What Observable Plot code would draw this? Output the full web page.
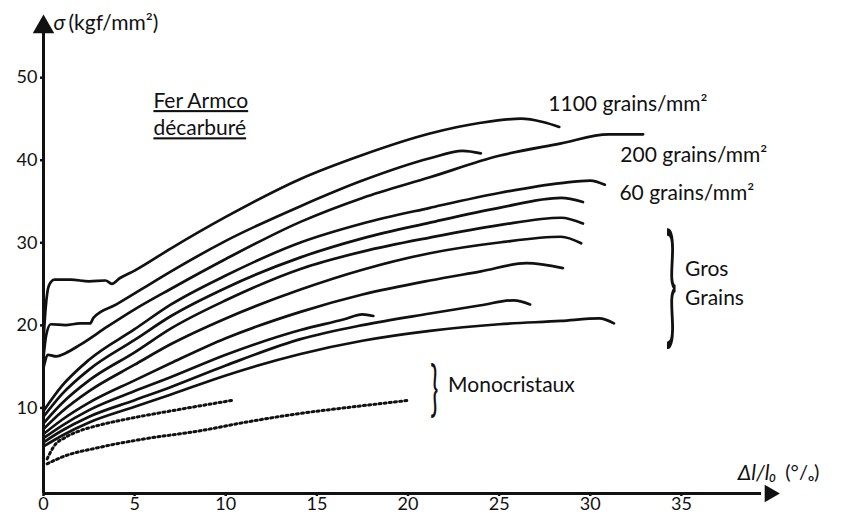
<!DOCTYPE html>
<html><head><meta charset="utf-8">
<script src="https://cdn.jsdelivr.net/npm/d3@7"></script>
<script src="https://cdn.jsdelivr.net/npm/@observablehq/plot@0.6"></script>
<style>
html,body{margin:0;padding:0;background:#fff;}
#chart{width:841px;height:517px;overflow:hidden;}
</style></head><body><div id="chart"></div>
<script>
// ---- data: tensile curves of decarburized Armco iron (x = Δl/l0 in %, y = σ in kgf/mm²)
const curve1100 = [[0,18.5],[0.12,22.5],[0.3,25.2],[0.6,25.9],[1.5,25.9],[2.5,25.7],[3.4,25.8],[3.75,25.4],[4.2,26.1],[5,27.0],[7,29.7],[10,33.5],[14.1,38.1],[17.5,41.0],[21.2,43.6],[24,44.9],[26.2,45.4],[27.4,45.0],[28.3,44.4]];
const curveB = [[0,16.5],[0.15,19.2],[0.4,20.5],[1.2,20.4],[2.0,20.6],[2.55,20.6],[2.75,21.3],[4,22.9],[5.5,24.9],[7,26.9],[10,30.6],[14.1,34.8],[17.5,37.9],[21.2,40.6],[23,41.5],[24,41.2]];
const curve200 = [[0,15.2],[0.25,16.8],[0.7,16.6],[1.2,17.0],[2,18.0],[3.5,20.2],[5,22.3],[7,24.8],[10,28.4],[14.1,32.9],[17.5,35.8],[21.2,38.3],[25,40.9],[28.4,42.4],[31,43.5],[32.9,43.5]];
const curve60 = [[0,10.0],[1,13.0],[2.5,16.2],[5,19.9],[7,22.9],[10,26.4],[14.1,30.4],[17.5,32.7],[21.2,34.6],[25,36.4],[28.4,37.6],[30,37.9],[30.8,37.4]];
const curveE = [[0,9.3],[1,12.0],[2.5,15.0],[5,18.6],[7,21.5],[10,24.9],[14.1,28.6],[17.5,30.9],[21.2,32.8],[25,34.6],[28.4,35.8],[29.6,35.3]];
const curveF = [[0,8.5],[1,10.9],[2.5,13.7],[5,17.1],[7,20.0],[10,23.4],[14.1,27.2],[17.5,29.3],[21.2,31.0],[25,32.5],[28.4,33.4],[29.6,32.7]];
const curveG = [[0,7.8],[1,9.9],[2.5,12.4],[5,15.6],[7,18.1],[10,21.2],[14.1,24.7],[17.5,27.1],[21.2,29.1],[25,30.4],[28.4,31.1],[29.5,30.3]];
const curveH = [[0,7.2],[1,8.9],[2.5,11.0],[5,13.7],[7,15.8],[10,18.8],[14.1,22.0],[17.5,24.1],[21.2,25.8],[24,26.9],[26.5,27.9],[28.5,27.3]];
const curveI = [[0,6.7],[1,8.2],[2.5,10.1],[5,12.4],[7,14.1],[10,16.8],[14.1,19.8],[16.5,21.1],[17.5,21.7],[18.1,21.5]];
const curveJ = [[0,6.2],[1,7.6],[2.5,9.3],[5,11.3],[7,12.9],[10,15.5],[14.1,18.7],[17.5,20.4],[21.2,21.8],[24,22.8],[25.8,23.4],[26.7,22.9]];
const curveK = [[0,5.7],[1,7.0],[2.5,8.6],[5,10.5],[7,12.0],[10,14.3],[14.1,16.9],[17.5,18.5],[21.2,19.7],[25,20.5],[28.4,20.9],[30.5,21.2],[31.3,20.6]];
const monoA = [[0.2,4.2],[0.6,5.8],[1.2,6.8],[2,7.6],[3.1,8.3],[5,9.2],[7.5,10.2],[10.4,11.3]];
const monoB = [[0.2,3.6],[1,4.4],[3.1,5.6],[5.5,6.6],[8.6,7.6],[11,8.6],[14.1,9.7],[17,10.5],[20.1,11.3]];

const solidCurves = [curve1100, curveB, curve200, curve60, curveE, curveF, curveG, curveH, curveI, curveJ, curveK];
const dottedCurves = [monoA, monoB];

const xTicks = [0, 5, 10, 15, 20, 25, 30, 35];
const yTicks = [10, 20, 30, 40, 50];

const toRows = (list) => list.flatMap((pts, k) => pts.map(([x, y]) => ({id: k, x, y})));
const solidRows = toRows(solidCurves);
const dottedRows = toRows(dottedCurves);

const FONT = "Lato, 'Open Sans', sans-serif";
const INK = "#111";

const labelTexts = [
  {text: "Fer Armco", x: 6.03, y: 47.5},
  {text: "décarburé", x: 6.03, y: 44.2},
  {text: "1100 grains/mm²", x: 27.7, y: 47.1},
  {text: "200 grains/mm²", x: 31.65, y: 41.0},
  {text: "60 grains/mm²", x: 31.6, y: 36.4},
  {text: "Gros", x: 35.2, y: 27.1},
  {text: "Grains", x: 35.2, y: 23.7},
  {text: "Monocristaux", x: 22.2, y: 13.1}
];

const plot = Plot.plot({
  width: 841, height: 517,
  marginLeft: 43, marginRight: 69, marginTop: 10, marginBottom: 24,
  x: {domain: [0, 40]},
  y: {domain: [0, 58.5]},
  style: {fontFamily: FONT, color: INK, background: "#fff", overflow: "visible"},
  marks: [
    Plot.ruleX([0], {y1: 0, y2: 56, stroke: INK, strokeWidth: 3}),
    Plot.ruleY([0], {x1: 0, x2: 39.4, stroke: INK, strokeWidth: 3}),
    Plot.dot([{x: 0, y: 56.5}], {x: "x", y: "y", symbol: "triangle", r: 8, fill: INK, stroke: "none"}),
    Plot.dot([{x: 39.85, y: 0}], {x: "x", y: "y", symbol: "triangle", r: 6.5, rotate: 90, fill: INK, stroke: "none"}),
    Plot.axisX({ticks: xTicks, tickSize: 3, tickPadding: 1, fontSize: 18, label: null, stroke: INK, strokeWidth: 2.5}),
    Plot.axisY({ticks: yTicks, tickSize: 3, tickPadding: 3, fontSize: 18, label: null, dy: -3, stroke: INK, strokeWidth: 2.5}),
    Plot.line(solidRows, {x: "x", y: "y", z: "id", curve: "monotone-x", stroke: INK, strokeWidth: 2.7, strokeLinecap: "round"}),
    Plot.line(dottedRows, {x: "x", y: "y", z: "id", curve: "monotone-x", stroke: INK, strokeWidth: 3, strokeDasharray: "2,3.2"}),
    Plot.text(labelTexts, {x: "x", y: "y", text: "text", textAnchor: "start", lineAnchor: "middle", fontSize: 21, fill: INK}),
    Plot.text(["σ"], {x: 0.55, y: 56.9, text: d => d, textAnchor: "start", lineAnchor: "middle", fontSize: 21, fontStyle: "italic", fill: INK}),
    Plot.text(["(kgf/mm²)"], {x: 1.37, y: 56.9, text: d => d, textAnchor: "start", lineAnchor: "middle", fontSize: 21, fill: INK}),
    Plot.text(["Δl/l₀"], {x: 38.1, y: 2.5, text: d => d, textAnchor: "start", lineAnchor: "middle", fontSize: 21, fontStyle: "italic", fill: INK}),
    Plot.text(["(°/ₒ)"], {x: 40.7, y: 2.5, text: d => d, textAnchor: "start", lineAnchor: "middle", fontSize: 20, fill: INK}),
    Plot.text(["}"], {x: 34.45, y: 24.9, text: d => d, textAnchor: "middle", lineAnchor: "middle", fontSize: 132, fontWeight: 400, fill: INK}),
    Plot.text(["}"], {x: 21.45, y: 12.6, text: d => d, textAnchor: "middle", lineAnchor: "middle", fontSize: 60, fontWeight: 400, fill: INK})
  ]
});

// post-process: underline the title words, narrow the braces
const svg = d3.select(plot);
let braceIndex = 0;
svg.selectAll("text").each(function() {
  const t = this.textContent;
  const el = d3.select(this);
  if (t === "Fer Armco" || t === "décarburé") {
    el.style("text-decoration", "underline")
      .style("text-decoration-thickness", "1.5px")
      .style("text-underline-offset", "6px");
  }
  if (t === "}") {
    const sx = braceIndex === 0 ? 0.28 : 0.45;
    braceIndex++;
    const tr = el.attr("transform");
    if (tr) el.attr("transform", tr + ` scale(${sx},1)`);
    else {
      const x = +el.attr("x") || 0, y = +el.attr("y") || 0;
      el.attr("transform", `translate(${x},${y}) scale(${sx},1) translate(${-x},${-y})`);
    }
  }
});
document.getElementById("chart").appendChild(plot);
</script></body></html>
